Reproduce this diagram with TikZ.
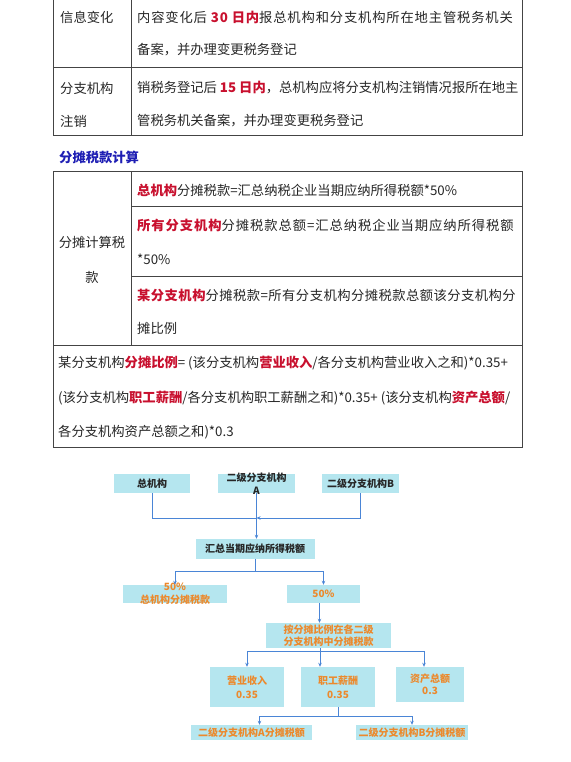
\documentclass[tikz,border=0pt]{standalone}
\usepackage{fontspec}
\setmainfont{Noto Sans CJK SC}
\newfontfamily\spreadA[LetterSpace=6.3]{Noto Sans CJK SC}
\newfontfamily\spreadB[LetterSpace=7]{Noto Sans CJK SC}
\newfontfamily\spreadC[LetterSpace=3.5]{Noto Sans CJK SC}
\usetikzlibrary{arrows.meta}
\definecolor{tabred}{HTML}{C8102E}
\definecolor{headblue}{HTML}{1F1FB4}
\definecolor{boxfill}{HTML}{B5E6EF}
\definecolor{boxorange}{HTML}{EC892C}
\definecolor{linkblue}{HTML}{4A85D6}
\definecolor{tabline}{HTML}{444444}
\definecolor{txt}{HTML}{262626}
\newcommand{\hot}[1]{{\color{tabred}\bfseries #1}}
\tikzset{
  tabtext/.style={anchor=west,inner sep=0pt,font=\fontsize{13.3}{15}\selectfont,text=txt},
  rule/.style={draw=tabline,line width=1pt},
  fbox/.style={fill=boxfill,inner sep=0pt,align=center,font=\fontsize{10}{13}\selectfont\bfseries},
  ftext/.style={inner sep=0pt,align=center,font=\fontsize{10}{13}\selectfont\bfseries},
  link/.style={draw=linkblue,line width=0.8pt},
  tip/.style={-{Stealth[length=4pt,width=3.5pt]}}
}

\begin{document}
\begin{tikzpicture}[x=1pt,y=-1pt]
\useasboundingbox (0,0) rectangle (570,762);

%first table
\draw[rule] (53,0) -- (53,136) -- (522,136) -- (522,0);
\draw[rule] (131,0) -- (131,136); \draw[rule] (53,67.5) -- (522,67.5);
\node[tabtext] (t1a) at (60,17) {信息变化};
\node[tabtext] (t1b) at (137,17) {\spreadA 内容变化后 \hot{30 日内}报总机构和分支机构所在地主管税务机关};
\node[tabtext] (t1c) at (137,50) {备案，并办理变更税务登记};
\node[tabtext] (t2a) at (60,88) {分支机构}; \node[tabtext] (t2b) at (60,121) {注销};
\node[tabtext] (t2c) at (137,88) {销税务登记后 \hot{15 日内}，总机构应将分支机构注销情况报所在地主};
\node[tabtext] (t2d) at (137,121) {管税务机关备案，并办理变更税务登记};

\node[tabtext,font=\fontsize{13.3}{15}\selectfont\bfseries,text=headblue] (head) at (59,157) {分摊税款计算};

%second table
\draw[rule] (53,172) rectangle (522,447.5);
\draw[rule] (131,172) -- (131,345.5); \draw[rule] (53,345.5) -- (522,345.5);
\draw[rule] (131,206.5) -- (522,206.5); \draw[rule] (131,276) -- (522,276);
\node[tabtext,anchor=center] (s0a) at (92,242) {分摊计算税}; \node[tabtext,anchor=center] (s0b) at (92,277) {款};
\node[tabtext] (s1) at (137,190) {\hot{总机构}分摊税款=汇总纳税企业当期应纳所得税额*50\%};
\node[tabtext] (s2a) at (137,225) {\spreadB\hot{所有分支机构}分摊税款总额=汇总纳税企业当期应纳所得税额};
\node[tabtext] (s2b) at (137,259) {*50\%};
\node[tabtext] (s3a) at (137,295) {\spreadC\hot{某分支机构}分摊税款=所有分支机构分摊税款总额该分支机构分};
\node[tabtext] (s3b) at (137,328) {摊比例};
\node[tabtext] (s4a) at (58,363) {某分支机构\hot{分摊比例}= (该分支机构\hot{营业收入}/各分支机构营业收入之和)*0.35+};
\node[tabtext] (s4b) at (58,398) {(该分支机构\hot{职工薪酬}/各分支机构职工薪酬之和)*0.35+ (该分支机构\hot{资产总额}/};
\node[tabtext] (s4c) at (58,432) {各分支机构资产总额之和)*0.3};

%flow chart
\node[fbox,minimum width=76pt,minimum height=19pt,text=txt] (zong) at (152,483.5) {总机构};
\node[fbox,minimum width=77pt,minimum height=19pt,label={[ftext,text=txt]center:{二级分支机构\\A}}] (fzA) at (256.5,483.5) {};
\node[fbox,minimum width=77pt,minimum height=19pt,text=txt] (fzB) at (360.5,483.5) {二级分支机构B};
\node[fbox,minimum width=119pt,minimum height=20pt,text=txt] (huizong) at (255,549) {汇总当期应纳所得税额};
\node[fbox,minimum width=104pt,minimum height=18pt,label={[ftext,text=boxorange]center:{50\%\\总机构分摊税款}}] (left50) at (175,594) {};
\node[fbox,minimum width=73pt,minimum height=18pt,text=boxorange] (right50) at (323.5,594) {50\%};
\node[fbox,minimum width=125pt,minimum height=25pt,text=boxorange,font=\fontsize{10}{12}\selectfont\bfseries] (fentan) at (328.5,635.5) {按分摊比例在各二级\\分支机构中分摊税款};
\node[fbox,minimum width=74pt,minimum height=40pt,text=boxorange,font=\fontsize{10}{14}\selectfont\bfseries] (yingye) at (247,687) {营业收入\\0.35};
\node[fbox,minimum width=74pt,minimum height=40pt,text=boxorange,font=\fontsize{10}{14}\selectfont\bfseries] (zhigong) at (338,687) {职工薪酬\\0.35};
\node[fbox,minimum width=68pt,minimum height=35pt,text=boxorange,font=\fontsize{10}{12}\selectfont\bfseries] (zichan) at (430,684.5) {资产总额\\0.3};
\node[fbox,minimum width=121pt,minimum height=15pt,text=boxorange] (fenA) at (251.5,732.5) {二级分支机构A分摊税额};
\node[fbox,minimum width=112pt,minimum height=15pt,text=boxorange] (fenB) at (412,732.5) {二级分支机构B分摊税额};

\coordinate (jn) at (256.5,518); \coordinate (sp1) at (255,571);
\coordinate (sp2) at (320,651); \coordinate (sp3) at (338,716);
\draw[link] (zong.south) |- (jn); \draw[link,tip] (fzB.south) |- (jn);
\draw[link,tip] (fzA.south) -- (fzA.south |- huizong.north);
\draw[link] (huizong.south) -- (sp1);
\draw[link,tip] (sp1) -| (left50.north); \draw[link,tip] (sp1) -| (right50.north);
\draw[link,tip] ([xshift=-4pt]right50.south) -- ([xshift=-4pt]right50.south |- fentan.north);
\draw[link] (sp2 |- fentan.south) -- (sp2);
\draw[link,tip] (sp2) -| (yingye.north); \draw[link,tip] (sp2) -- (sp2 |- zhigong.north);
\draw[link,tip] (sp2) -| ([xshift=-6pt]zichan.north);
\draw[link] (zhigong.south) -- (sp3);
\draw[link,tip] (sp3) -| ([xshift=8pt]fenA.north); \draw[link,tip] (sp3) -| (fenB.north);
\end{tikzpicture}
\end{document}
